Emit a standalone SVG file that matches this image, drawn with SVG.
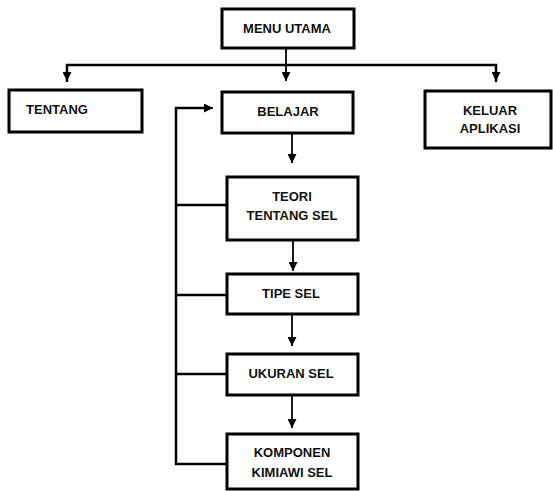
<svg xmlns="http://www.w3.org/2000/svg" width="553" height="491" viewBox="0 0 553 491">
  <defs>
    <marker id="arrow" viewBox="0 0 10 10" refX="10" refY="5" markerWidth="9" markerHeight="9" markerUnits="userSpaceOnUse" orient="auto">
      <path d="M0,0 L10,5 L0,10 z" fill="#000"/>
    </marker>
    <style>
      .box { fill: #fff; stroke: #000; stroke-width: 3; }
      .lbl { font-family: "Liberation Sans", Arial, sans-serif; font-weight: bold; font-size: 13px; fill: #111; text-anchor: middle; }
      .wire { fill: none; stroke: #000; stroke-width: 2.5; }
      .thin { fill: none; stroke: #000; stroke-width: 1.8; }
    </style>
  </defs>
  <rect width="553" height="491" fill="#fff"/>

  <!-- connectors -->
  <g id="connectors">
    <!-- top menu bus -->
    <path class="wire" d="M67,82 V65 H496 V82"/>
    <path class="thin" d="M67,65 V81" marker-end="url(#arrow)"/>
    <path class="thin" d="M496,65 V81" marker-end="url(#arrow)"/>
    <path class="thin" d="M286,48 V81" marker-end="url(#arrow)"/>
    <!-- learning sequence -->
    <path class="thin" d="M292,133 V163" marker-end="url(#arrow)"/>
    <path class="thin" d="M293,240 V271" marker-end="url(#arrow)"/>
    <path class="thin" d="M292,314 V346" marker-end="url(#arrow)"/>
    <path class="thin" d="M292,395 V428" marker-end="url(#arrow)"/>
    <!-- return loop back to BELAJAR -->
    <path class="wire" d="M227,464 H176 V108 H205"/>
    <path class="thin" d="M200,108 H213" marker-end="url(#arrow)"/>
    <path class="wire" d="M176,205 H227"/>
    <path class="wire" d="M176,295 H227"/>
    <path class="wire" d="M176,374 H227"/>
  </g>

  <g id="menu-utama">
    <rect class="box" x="222" y="9" width="132" height="39"/>
    <text class="lbl" x="287" y="33">MENU UTAMA</text>
  </g>

  <g id="tentang">
    <rect class="box" x="9" y="90" width="133" height="42"/>
    <text class="lbl" x="57" y="114">TENTANG</text>
  </g>

  <g id="belajar">
    <rect class="box" x="222" y="92" width="131" height="41"/>
    <text class="lbl" x="288" y="116">BELAJAR</text>
  </g>

  <g id="keluar-aplikasi">
    <rect class="box" x="425" y="91" width="126" height="57"/>
    <text class="lbl" x="490" y="115">KELUAR</text>
    <text class="lbl" x="490" y="133">APLIKASI</text>
  </g>

  <g id="teori-tentang-sel">
    <rect class="box" x="227" y="177" width="131" height="63"/>
    <text class="lbl" x="292" y="201">TEORI</text>
    <text class="lbl" x="292" y="220">TENTANG SEL</text>
  </g>

  <g id="tipe-sel">
    <rect class="box" x="227" y="274" width="131" height="40"/>
    <text class="lbl" x="291" y="298">TIPE SEL</text>
  </g>

  <g id="ukuran-sel">
    <rect class="box" x="227" y="354" width="131" height="41"/>
    <text class="lbl" x="291" y="378">UKURAN SEL</text>
  </g>

  <g id="komponen-kimiawi-sel">
    <rect class="box" x="227" y="434" width="131" height="55"/>
    <text class="lbl" x="292" y="457">KOMPONEN</text>
    <text class="lbl" x="292" y="477">KIMIAWI SEL</text>
  </g>
</svg>
